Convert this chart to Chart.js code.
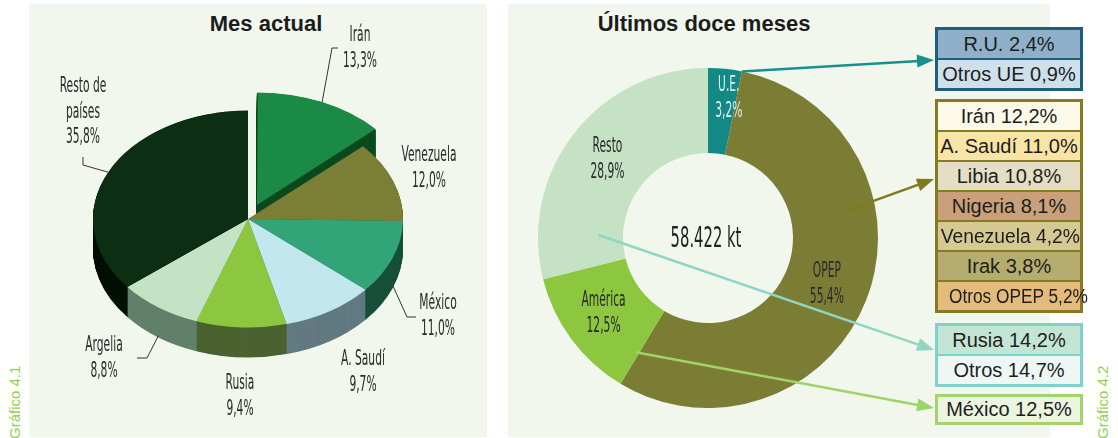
<!DOCTYPE html>
<html>
<head>
<meta charset="utf-8">
<script src="https://cdn.jsdelivr.net/npm/chart.js@4.4.1/dist/chart.umd.min.js"></script>
<style>
html,body{margin:0;padding:0;background:#ffffff;}
#stage{position:relative;width:1118px;height:438px;overflow:hidden;background:#ffffff;}
.panel{position:absolute;background:#f2f7ed;}
canvas{position:absolute;left:0;top:0;}
.title{position:absolute;font:bold 22px "Liberation Sans",Arial,sans-serif;line-height:22px;color:#1c1c1c;white-space:nowrap;transform:translateX(-50%);}
.box{position:absolute;left:935px;width:142px;border:3px solid #000;}
.row{text-align:center;font:20px "Liberation Sans",Arial,sans-serif;color:#1e1e1e;white-space:nowrap;overflow:visible;}
.row span{display:inline-block;transform-origin:center center;}
.fig{position:absolute;font:15px "Liberation Sans",Arial,sans-serif;line-height:16px;color:#92d050;white-space:nowrap;transform-origin:left top;transform:rotate(-90deg);}
</style>
</head>
<body>
<div id="stage">
  <div class="panel" style="left:29px;top:4px;width:458px;height:433px;"></div>
  <div class="panel" style="left:508px;top:4px;width:542px;height:433px;"></div>
  <div class="title" style="left:266px;top:13px;">Mes actual</div>
  <div class="title" style="left:704px;top:13px;">Últimos doce meses</div>
  <div class="fig" style="left:7px;top:439px;">Gráfico 4.1</div>
  <div class="fig" style="left:1095px;top:439px;">Gráfico 4.2</div>
  <canvas id="pie" width="1118" height="438"></canvas>
  <canvas id="donut" width="1118" height="438"></canvas>
  <div id="boxes"></div>
</div>
<script>
// ---------------- DATA ----------------
const monthLabels = ['Irán', 'Venezuela', 'México', 'A. Saudí', 'Rusia', 'Argelia', 'Resto de países'];
const monthValues = [13.3, 12.0, 11.0, 9.7, 9.4, 8.8, 35.8];

const yearLabels = ['U.E.', 'OPEP', 'América', 'Resto'];
const yearValues = [3.2, 55.4, 12.5, 28.9];
const yearTotal = '58.422 kt';

const ueLabels = ['R.U.', 'Otros UE'];
const ueValues = [2.4, 0.9];
const opepLabels = ['Irán', 'A. Saudí', 'Libia', 'Nigeria', 'Venezuela', 'Irak', 'Otros OPEP'];
const opepValues = [12.2, 11.0, 10.8, 8.1, 4.2, 3.8, 5.2];
const restoLabels = ['Rusia', 'Otros'];
const restoValues = [14.2, 14.7];
const americaLabels = ['México'];
const americaValues = [12.5];

// ---------------- STYLES ----------------
const pieTop  = ['#1a8a46', '#7b7f35', '#31a577', '#c3e7ef', '#8dc63f', '#c4e3c4', '#0c2e12'];
const pieSide = ['#0b4a1e', '#4d5020', '#17503a', '#627a80', '#4b6330', '#62806b', '#020f04'];
const pieOffset = [88, 0, 0, 0, 0, 0, 0];
const TILT = 0.70;
const DEPTH = 30;

const donutColors = ['#138884', '#7a7d33', '#8dc63f', '#c5e2c5'];
const donutText = ['#dcefeb', '#2a2a2a', '#2a2a2a', '#2a2a2a'];
const donutNudge = [[8, -13], [0, 0], [-2, 0], [0, 0]];

const COND = '"Liberation Sans Narrow","DejaVu Sans Condensed","Liberation Sans",sans-serif';
const LABEL_SIZE = 21;
const INK = '#2a2a2a';

// left pie label layout: center x, first line center y, optional leader elbow points
const pieLabelLayout = [
  {x: 360, y: 36, lines: ['Irán'], leader: [[332, 48], [338, 48]]},
  {x: 429, y: 156, lines: ['Venezuela']},
  {x: 438, y: 304, lines: ['México'], leader: [[407, 317], [416, 317]]},
  {x: 363, y: 360, lines: ['A. Saudí']},
  {x: 240, y: 384, lines: ['Rusia']},
  {x: 104, y: 346, lines: ['Argelia'], leader: [[147, 358], [137, 358]]},
  {x: 83, y: 87, lines: ['Resto de', 'países'], leader: [[83, 165], [83, 157]]}
];

const boxGroups = [
  {labels: ueLabels, values: ueValues, top: 27, border: '#1f5f7c', fills: ['#8fb0c8', '#cfe0ea'], rowH: 28},
  {labels: opepLabels, values: opepValues, top: 99, border: '#857b20',
   fills: ['#fdf9e8', '#f8e4a5', '#e4dfc4', '#c9a07a', '#d5c993', '#b5ac70', '#e4bb7c'], rowH: 28},
  {labels: restoLabels, values: restoValues, top: 323, border: '#80d0cc', fills: ['#c3e5d3', '#eef7f4'], rowH: 28},
  {labels: americaLabels, values: americaValues, top: 394, border: '#a3d46b', fills: ['#ebf4de'], rowH: 25}
];
const BOX_TEXT_MAX = 139;

// arrows: from a point inside a doughnut slice to the boxes
const arrowDefs = [
  {slice: 0, along: 1.0, ring: 1.0, tipY: 60, color: '#17918c', width: 2.5},
  {slice: 1, along: 0.337, ring: 0.68, tipY: 179, color: '#7f7a1e', width: 2.5},
  {slice: 3, along: 0.15, ring: 0.29, tipY: 350, color: '#8fd6c3', width: 2.5},
  {slice: 2, along: 0.03, ring: 0.59, tipY: 408, color: '#9fd46a', width: 2.5}
];
const TIP_X = 934;

// ---------------- HELPERS ----------------
const fmt = v => v.toFixed(1).replace('.', ',') + '%';
let condScale = 0.8;
(function () {
  const c = document.createElement('canvas').getContext('2d');
  c.font = LABEL_SIZE + 'px ' + COND;
  condScale = 34 / c.measureText('12,5%').width;
})();
function condText(ctx, text, x, y, size, color) {
  ctx.save();
  ctx.font = size + 'px ' + COND;
  ctx.fillStyle = color;
  ctx.textAlign = 'center';
  ctx.textBaseline = 'middle';
  ctx.translate(x, y);
  ctx.scale(condScale, 1);
  ctx.fillText(text, 0, 0);
  ctx.restore();
}

// ---------------- LEFT: 3D PIE ----------------
function arcGeom(arc) {
  const off = (arc.options.offset || 0) / 4;
  const mid = (arc.startAngle + arc.endAngle) / 2;
  const circ = arc.endAngle - arc.startAngle;
  const fix = 1 - Math.sin(Math.min(Math.PI, circ));
  return {ox: Math.cos(mid) * off, oy: Math.sin(mid) * off, r: arc.outerRadius + off * fix, mid};
}

const pie3d = {
  id: 'pie3d',
  beforeDatasetsDraw(chart) {
    const ctx = chart.ctx;
    const meta = chart.getDatasetMeta(0);
    const cx = meta.data[0].x, cy = meta.data[0].y;
    ctx.save();
    ctx.translate(cx, cy); ctx.scale(1, TILT); ctx.translate(-cx, -cy);
    for (let d = DEPTH; d >= 0.5; d -= 0.5) {
      meta.data.forEach((arc, i) => {
        const g = arcGeom(arc);
        const x = arc.x + g.ox, y = arc.y + g.oy + d / TILT;
        ctx.beginPath();
        ctx.moveTo(x, y);
        ctx.arc(x, y, g.r, arc.startAngle, arc.endAngle);
        ctx.closePath();
        ctx.fillStyle = pieSide[i];
        ctx.fill();
      });
    }
  },
  afterDatasetsDraw(chart) {
    chart.ctx.restore();
  },
  afterDraw(chart) {
    const ctx = chart.ctx;
    const meta = chart.getDatasetMeta(0);
    meta.data.forEach((arc, i) => {
      const L = pieLabelLayout[i];
      const g = arcGeom(arc);
      if (L.leader) {
        const ux = arc.x + g.ox + g.r * Math.cos(g.mid);
        const uy = arc.y + g.oy + g.r * Math.sin(g.mid);
        let sx = ux, sy = arc.y + (uy - arc.y) * TILT;
        if (Math.sin(g.mid) > 0) sy += DEPTH - 2;
        ctx.save();
        ctx.strokeStyle = '#333';
        ctx.lineWidth = 1;
        ctx.beginPath();
        ctx.moveTo(sx, sy);
        L.leader.forEach(p => ctx.lineTo(p[0], p[1]));
        ctx.stroke();
        ctx.restore();
      }
      const lines = L.lines.concat([fmt(monthValues[i])]);
      lines.forEach((t, k) => condText(ctx, t, L.x, L.y + k * 25.5, LABEL_SIZE, INK));
    });
  }
};

new Chart(document.getElementById('pie'), {
  type: 'pie',
  data: {
    labels: monthLabels,
    datasets: [{
      data: monthValues,
      backgroundColor: pieTop,
      borderWidth: 0,
      offset: pieOffset,
      clip: false
    }]
  },
  options: {
    responsive: false,
    animation: false,
    events: [],
    radius: 155,
    layout: {padding: {left: 48, right: 670, top: 19, bottom: 19}},
    plugins: {legend: {display: false}, tooltip: {enabled: false}}
  },
  plugins: [pie3d]
});

// ---------------- RIGHT: DOUGHNUT ----------------
function ringPoint(arc, along, ring) {
  const a = arc.startAngle + (arc.endAngle - arc.startAngle) * along;
  const r = arc.innerRadius + (arc.outerRadius - arc.innerRadius) * ring;
  return [arc.x + r * Math.cos(a), arc.y + r * Math.sin(a)];
}

const donutDeco = {
  id: 'donutDeco',
  afterDatasetsDraw(chart) {
    const ctx = chart.ctx;
    const meta = chart.getDatasetMeta(0);
    meta.data.forEach((arc, i) => {
      const [px, py] = ringPoint(arc, 0.5, 0.5);
      const x = px + donutNudge[i][0], y = py + donutNudge[i][1];
      condText(ctx, yearLabels[i], x, y - 13, LABEL_SIZE, donutText[i]);
      condText(ctx, fmt(yearValues[i]), x, y + 13, LABEL_SIZE, donutText[i]);
    });
    const c = meta.data[0];
    condText(ctx, yearTotal, c.x - 2, c.y + 1, 29, '#222');

    arrowDefs.forEach(a => {
      const [sx, sy] = ringPoint(meta.data[a.slice], a.along, a.ring);
      const tx = TIP_X, ty = a.tipY;
      const ang = Math.atan2(ty - sy, tx - sx);
      const hl = 17, hw = 6.5;
      const bx = tx - hl * Math.cos(ang), by = ty - hl * Math.sin(ang);
      ctx.save();
      ctx.strokeStyle = a.color;
      ctx.fillStyle = a.color;
      ctx.lineWidth = a.width;
      ctx.beginPath();
      ctx.moveTo(sx, sy);
      ctx.lineTo(bx + 2 * Math.cos(ang), by + 2 * Math.sin(ang));
      ctx.stroke();
      ctx.beginPath();
      ctx.moveTo(tx, ty);
      ctx.lineTo(bx - hw * Math.sin(ang), by + hw * Math.cos(ang));
      ctx.lineTo(bx + hw * Math.sin(ang), by - hw * Math.cos(ang));
      ctx.closePath();
      ctx.fill();
      ctx.restore();
    });
  }
};

new Chart(document.getElementById('donut'), {
  type: 'doughnut',
  data: {
    labels: yearLabels,
    datasets: [{
      data: yearValues,
      backgroundColor: donutColors,
      borderWidth: 0,
      clip: false
    }]
  },
  options: {
    responsive: false,
    animation: false,
    events: [],
    radius: 170,
    cutout: '50%',
    layout: {padding: {left: 508, right: 210, top: 38, bottom: 0}},
    plugins: {legend: {display: false}, tooltip: {enabled: false}}
  },
  plugins: [donutDeco]
});

// ---------------- BOXES ----------------
const boxesEl = document.getElementById('boxes');
boxGroups.forEach(g => {
  const box = document.createElement('div');
  box.className = 'box';
  box.style.top = g.top + 'px';
  box.style.borderColor = g.border;
  g.labels.forEach((lab, i) => {
    const row = document.createElement('div');
    row.className = 'row';
    row.style.height = g.rowH + 'px';
    row.style.lineHeight = g.rowH + 'px';
    row.style.background = g.fills[i];
    if (i > 0) row.style.borderTop = '2px solid ' + g.border;
    const span = document.createElement('span');
    span.textContent = lab + ' ' + fmt(g.values[i]);
    row.appendChild(span);
    box.appendChild(row);
  });
  boxesEl.appendChild(box);
});
document.querySelectorAll('.row span').forEach(s => {
  const w = s.getBoundingClientRect().width;
  if (w > BOX_TEXT_MAX) s.style.transform = 'scaleX(' + (BOX_TEXT_MAX / w).toFixed(3) + ')';
});
</script>
</body>
</html>
